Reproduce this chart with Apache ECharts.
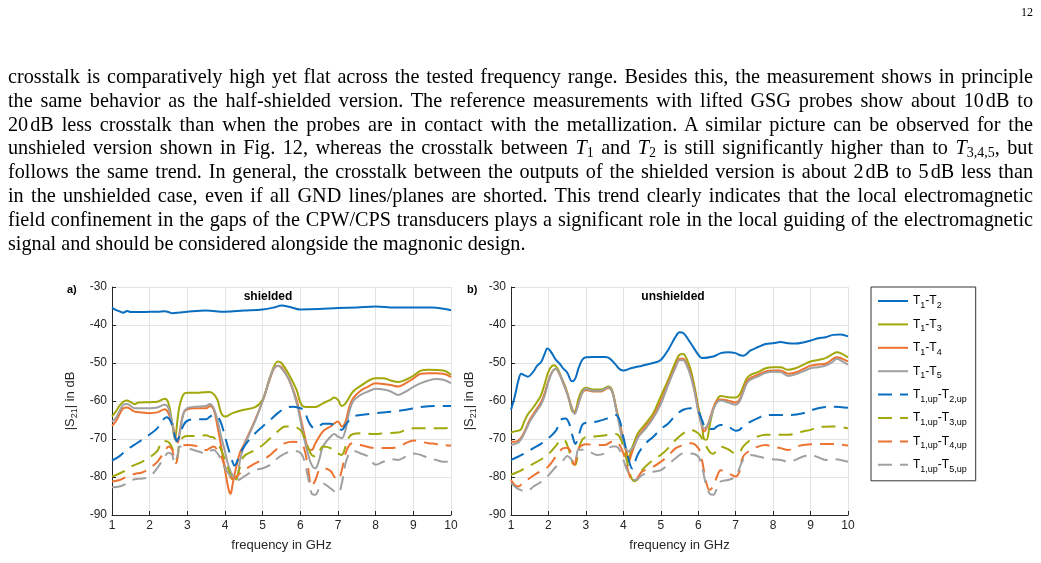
<!DOCTYPE html>
<html>
<head>
<meta charset="utf-8">
<script src="https://cdn.jsdelivr.net/npm/echarts@6/dist/echarts.min.js"></script>
<style>
html,body{margin:0;padding:0;background:#fff;width:1041px;height:563px;overflow:hidden;}
#chart{position:absolute;left:0;top:0;width:1041px;height:563px;}
#page{position:absolute;left:1021px;top:5px;font-family:'Liberation Serif',serif;font-size:12px;color:#000;}
#para{position:absolute;left:8px;top:65px;width:1025px;font-family:'Liberation Serif',serif;font-size:20.2px;line-height:23.8px;color:#000;}
#para .l{text-align:justify;text-align-last:justify;white-space:nowrap;word-spacing:-1.8px;}
#para .e{text-align:left;white-space:nowrap;}
#para sub{font-size:14px;line-height:0;vertical-align:-3px;}
.u{margin-left:2px;}
</style>
</head>
<body>
<div id="chart"></div>
<div id="page">12</div>
<div id="para">
<div class="l">crosstalk is comparatively high yet flat across the tested frequency range. Besides this, the measurement shows in principle</div>
<div class="l">the same behavior as the half-shielded version. The reference measurements with lifted GSG probes show about 10<span class="u">dB</span> to</div>
<div class="l">20<span class="u">dB</span> less crosstalk than when the probes are in contact with the metallization. A similar picture can be observed for the</div>
<div class="l">unshieled version shown in Fig. 12, whereas the crosstalk between <i>T</i><sub>1</sub> and <i>T</i><sub>2</sub> is still significantly higher than to <i>T</i><sub>3,4,5</sub>, but</div>
<div class="l">follows the same trend. In general, the crosstalk between the outputs of the shielded version is about 2<span class="u">dB</span> to 5<span class="u">dB</span> less than</div>
<div class="l">in the unshielded case, even if all GND lines/planes are shorted. This trend clearly indicates that the local electromagnetic</div>
<div class="l">field confinement in the gaps of the CPW/CPS transducers plays a significant role in the local guiding of the electromagnetic</div>
<div class="e">signal and should be considered alongside the magnonic design.</div>
</div>
<script>
// ---------- data ----------
const xTicks = [1,2,3,4,5,6,7,8,9,10];
const yTicks = [-90,-80,-70,-60,-50,-40,-30];
const seriesNames = ['T1-T2','T1-T3','T1-T4','T1-T5','T1up-T2up','T1up-T3up','T1up-T4up','T1up-T5up'];
const panelTitles = ['shielded','unshielded'];
const panelLabels = ['a)','b)'];

// (a) shielded, probes in contact (solid)
const aT12 = [[1.0,-35.5],[1.1,-36.0],[1.2,-36.4],[1.3,-36.8],[1.4,-36.3],[1.5,-36.6],[1.6,-36.6],[1.8,-36.6],[2.0,-36.5],[2.2,-36.5],[2.4,-36.4],[2.5,-36.6],[2.6,-36.9],[2.8,-36.7],[3.0,-36.5],[3.5,-36.2],[4.0,-36.5],[4.5,-36.2],[5.0,-35.9],[5.3,-35.4],[5.5,-34.9],[5.7,-35.2],[6.0,-35.9],[6.5,-35.8],[7.0,-35.5],[7.5,-35.4],[8.0,-35.1],[8.5,-35.4],[9.0,-35.4],[9.5,-35.4],[9.8,-35.7],[10.0,-36.1]];
const aT13 = [[1.0,-64.1],[1.1,-62.8],[1.2,-61.2],[1.3,-60.2],[1.4,-59.9],[1.5,-60.3],[1.6,-60.8],[1.7,-60.4],[2.0,-60.3],[2.2,-60.2],[2.4,-59.4],[2.5,-60.6],[2.6,-66.0],[2.67,-70.0],[2.75,-64.0],[2.8,-61.0],[2.9,-58.2],[3.0,-57.8],[3.3,-57.8],[3.6,-57.6],[3.7,-58.2],[3.8,-59.7],[3.9,-63.2],[4.0,-64.1],[4.2,-63.2],[4.5,-62.3],[4.8,-61.6],[5.0,-59.6],[5.2,-53.5],[5.4,-49.6],[5.5,-50.0],[5.7,-53.1],[5.9,-57.1],[6.0,-60.4],[6.1,-61.5],[6.4,-61.6],[6.6,-60.6],[6.8,-59.7],[6.9,-59.1],[7.0,-59.7],[7.1,-61.3],[7.2,-60.6],[7.4,-57.5],[7.6,-56.0],[8.0,-54.0],[8.2,-54.0],[8.4,-54.6],[8.6,-55.0],[8.8,-54.4],[9.0,-53.4],[9.2,-52.0],[9.4,-51.8],[9.8,-52.0],[10.0,-53.1]];
const aT14 = [[1.0,-66.5],[1.1,-65.4],[1.2,-63.5],[1.3,-61.9],[1.4,-61.7],[1.6,-62.8],[1.8,-63.0],[2.0,-63.2],[2.2,-63.0],[2.4,-62.2],[2.5,-63.2],[2.6,-65.9],[2.7,-70.0],[2.75,-70.9],[2.8,-68.0],[2.9,-63.2],[3.0,-62.2],[3.2,-61.9],[3.5,-61.9],[3.6,-61.3],[3.7,-62.3],[3.8,-66.7],[3.9,-72.0],[4.0,-78.2],[4.1,-83.4],[4.15,-84.4],[4.2,-82.0],[4.3,-77.3],[4.4,-73.5],[4.5,-71.5],[4.8,-65.0],[5.0,-60.0],[5.2,-54.0],[5.3,-51.5],[5.4,-50.7],[5.5,-51.1],[5.7,-54.4],[5.9,-59.7],[6.0,-64.1],[6.1,-68.5],[6.2,-72.4],[6.3,-72.9],[6.4,-71.1],[6.6,-68.0],[6.8,-66.7],[6.9,-65.9],[7.0,-65.4],[7.1,-66.7],[7.2,-65.4],[7.3,-61.5],[7.4,-59.3],[7.6,-57.3],[7.8,-56.2],[8.0,-55.3],[8.2,-55.5],[8.4,-55.8],[8.6,-56.2],[8.8,-55.3],[9.0,-54.1],[9.2,-52.8],[9.4,-52.7],[9.6,-52.7],[9.8,-52.8],[10.0,-53.7]];
const aT15 = [[1.0,-65.4],[1.1,-64.5],[1.2,-62.6],[1.3,-61.0],[1.4,-60.8],[1.6,-61.9],[1.8,-61.9],[2.0,-61.9],[2.2,-61.7],[2.4,-61.0],[2.5,-61.9],[2.6,-65.9],[2.7,-70.5],[2.75,-70.2],[2.8,-68.5],[2.9,-63.2],[3.0,-61.9],[3.2,-61.5],[3.5,-61.3],[3.6,-60.8],[3.7,-61.9],[3.8,-65.0],[3.9,-69.4],[4.0,-73.3],[4.1,-77.3],[4.2,-79.5],[4.3,-80.5],[4.35,-79.0],[4.4,-75.5],[4.5,-72.0],[4.8,-65.3],[5.0,-60.0],[5.2,-53.8],[5.3,-51.3],[5.4,-50.7],[5.5,-51.4],[5.7,-54.4],[5.9,-60.5],[6.0,-65.0],[6.1,-69.8],[6.2,-73.8],[6.3,-76.8],[6.4,-77.7],[6.5,-75.5],[6.6,-72.0],[6.8,-69.4],[6.9,-68.7],[7.0,-69.4],[7.1,-69.8],[7.2,-67.6],[7.3,-62.8],[7.4,-60.1],[7.6,-58.4],[7.8,-57.5],[8.0,-56.8],[8.2,-57.0],[8.4,-57.5],[8.6,-58.4],[8.8,-57.5],[9.0,-56.3],[9.2,-55.3],[9.4,-54.6],[9.6,-54.2],[9.8,-54.4],[10.0,-55.3]];
// (a) shielded, lifted probes (dashed)
const aU12 = [[1.0,-75.7],[1.2,-74.5],[1.4,-72.8],[1.6,-71.5],[1.8,-70.2],[2.0,-68.8],[2.2,-67.2],[2.35,-65.0],[2.45,-64.3],[2.55,-65.2],[2.65,-68.5],[2.72,-70.5],[2.8,-69.0],[2.9,-66.3],[3.0,-65.2],[3.2,-64.8],[3.5,-64.8],[3.6,-64.1],[3.7,-63.7],[3.8,-64.1],[3.9,-65.9],[4.0,-69.4],[4.1,-72.9],[4.2,-76.0],[4.25,-77.0],[4.3,-76.4],[4.4,-73.8],[4.6,-70.7],[4.8,-68.5],[5.0,-66.7],[5.2,-65.0],[5.4,-63.2],[5.6,-61.9],[5.8,-61.5],[6.0,-61.9],[6.1,-62.3],[6.2,-65.0],[6.3,-66.7],[6.4,-67.2],[6.5,-66.7],[6.6,-66.0],[6.8,-66.0],[7.0,-67.2],[7.1,-67.6],[7.2,-66.3],[7.3,-65.0],[7.4,-64.1],[7.6,-63.7],[8.0,-63.2],[8.4,-62.8],[8.8,-62.3],[9.2,-61.6],[9.6,-61.3],[10.0,-61.3]];
const aU13 = [[1.0,-79.9],[1.1,-79.5],[1.3,-78.6],[1.5,-77.3],[1.8,-76.0],[2.0,-74.8],[2.2,-73.2],[2.35,-70.5],[2.5,-70.8],[2.6,-72.4],[2.67,-74.8],[2.72,-75.2],[2.8,-70.5],[2.9,-69.5],[3.0,-69.2],[3.3,-69.2],[3.5,-69.0],[3.6,-69.4],[3.7,-69.6],[3.8,-71.1],[3.9,-72.9],[4.0,-75.5],[4.1,-78.2],[4.2,-80.8],[4.25,-81.7],[4.3,-80.8],[4.4,-77.3],[4.5,-74.6],[4.8,-72.9],[5.0,-71.6],[5.2,-69.8],[5.4,-68.0],[5.6,-66.7],[5.8,-66.7],[6.0,-67.6],[6.1,-69.4],[6.2,-72.0],[6.3,-74.2],[6.4,-74.6],[6.5,-73.3],[6.6,-72.0],[6.8,-72.4],[7.0,-73.8],[7.1,-74.2],[7.2,-72.0],[7.3,-69.4],[7.4,-68.7],[7.6,-68.5],[8.0,-68.7],[8.2,-68.5],[8.6,-68.3],[8.8,-67.6],[9.0,-67.2],[9.4,-67.2],[9.8,-67.2],[10.0,-66.9]];
const aU14 = [[1.0,-81.2],[1.2,-80.8],[1.4,-79.9],[1.6,-79.2],[1.8,-78.8],[2.0,-77.7],[2.2,-76.0],[2.4,-73.3],[2.5,-72.0],[2.6,-72.9],[2.65,-76.0],[2.7,-76.4],[2.75,-74.2],[2.8,-72.0],[3.0,-71.6],[3.3,-72.0],[3.5,-72.9],[3.6,-72.4],[3.7,-72.0],[3.8,-72.9],[3.9,-74.6],[4.0,-77.3],[4.1,-79.5],[4.2,-80.4],[4.3,-79.9],[4.4,-79.0],[4.5,-78.2],[4.8,-76.4],[5.0,-75.5],[5.2,-74.2],[5.4,-72.4],[5.6,-71.1],[5.8,-70.7],[6.0,-71.1],[6.1,-72.4],[6.2,-77.3],[6.3,-82.5],[6.4,-80.8],[6.5,-78.2],[6.6,-77.7],[6.8,-78.4],[6.9,-79.9],[7.0,-80.8],[7.1,-78.2],[7.2,-73.8],[7.3,-71.6],[7.4,-71.1],[7.6,-71.6],[8.0,-72.4],[8.2,-72.4],[8.4,-72.4],[8.6,-72.0],[8.8,-71.1],[9.0,-70.4],[9.2,-70.7],[9.4,-71.1],[9.6,-71.3],[9.8,-71.6],[10.0,-71.7]];
const aU15 = [[1.0,-82.7],[1.2,-82.5],[1.4,-81.7],[1.6,-80.6],[1.8,-80.4],[2.0,-79.9],[2.2,-77.7],[2.4,-74.6],[2.5,-73.6],[2.6,-74.2],[2.65,-76.0],[2.7,-76.0],[2.75,-73.8],[2.8,-72.0],[3.0,-72.4],[3.3,-73.3],[3.5,-73.8],[3.6,-73.1],[3.7,-72.9],[3.8,-73.8],[3.9,-75.5],[4.0,-77.7],[4.2,-80.4],[4.3,-80.8],[4.4,-80.6],[4.5,-79.9],[4.8,-78.2],[5.0,-77.7],[5.2,-76.8],[5.4,-75.0],[5.6,-73.8],[5.8,-73.1],[6.0,-73.6],[6.1,-75.5],[6.2,-79.9],[6.3,-84.3],[6.4,-84.7],[6.5,-83.0],[6.6,-81.7],[6.8,-83.0],[7.0,-84.3],[7.1,-81.7],[7.2,-76.4],[7.3,-73.8],[7.4,-73.1],[7.6,-73.8],[7.8,-74.6],[8.0,-76.8],[8.2,-76.0],[8.4,-75.3],[8.6,-75.5],[8.8,-74.6],[9.0,-73.8],[9.2,-74.2],[9.4,-75.0],[9.6,-75.5],[9.8,-76.0],[10.0,-76.0]];

// (b) unshielded, probes in contact (solid)
const bT12 = [[1.0,-62.3],[1.1,-58.8],[1.2,-54.5],[1.27,-52.8],[1.35,-53.2],[1.45,-53.6],[1.6,-52.2],[1.7,-50.7],[1.8,-49.8],[1.9,-47.6],[1.97,-46.2],[2.05,-46.8],[2.2,-49.2],[2.3,-50.2],[2.4,-51.5],[2.5,-52.5],[2.6,-54.6],[2.65,-54.8],[2.72,-54.0],[2.8,-51.5],[2.9,-49.2],[3.0,-48.5],[3.2,-48.4],[3.5,-48.4],[3.6,-48.6],[3.7,-49.4],[3.8,-50.5],[3.9,-51.6],[4.0,-52.0],[4.2,-51.4],[4.5,-50.7],[4.8,-50.0],[5.0,-49.2],[5.2,-46.5],[5.4,-43.0],[5.5,-41.9],[5.6,-42.1],[5.8,-44.8],[6.0,-47.8],[6.1,-48.7],[6.4,-48.3],[6.6,-47.4],[6.8,-47.2],[7.0,-47.4],[7.1,-47.9],[7.2,-48.1],[7.4,-46.7],[7.6,-45.8],[7.8,-45.0],[8.0,-44.8],[8.2,-44.5],[8.4,-44.8],[8.6,-44.9],[8.8,-44.6],[9.0,-44.1],[9.2,-43.5],[9.4,-43.2],[9.6,-42.6],[9.8,-42.5],[10.0,-43.0]];
const bT13 = [[1.0,-68.3],[1.1,-68.0],[1.2,-67.8],[1.27,-67.4],[1.35,-65.5],[1.45,-63.5],[1.55,-62.3],[1.7,-60.2],[1.8,-58.5],[1.9,-55.5],[2.0,-52.3],[2.1,-50.7],[2.15,-50.6],[2.25,-51.6],[2.35,-54.0],[2.45,-56.3],[2.55,-59.5],[2.65,-62.8],[2.72,-62.6],[2.8,-59.5],[2.9,-57.1],[3.0,-56.5],[3.2,-57.0],[3.4,-57.0],[3.6,-56.2],[3.7,-57.1],[3.8,-61.5],[3.9,-65.9],[4.0,-70.2],[4.1,-74.0],[4.15,-75.0],[4.2,-73.2],[4.3,-70.6],[4.4,-68.3],[4.6,-65.9],[4.8,-63.2],[5.0,-58.8],[5.2,-54.4],[5.4,-49.6],[5.5,-47.8],[5.6,-47.6],[5.7,-49.1],[5.8,-51.8],[5.9,-56.2],[6.0,-61.5],[6.1,-65.9],[6.15,-70.0],[6.22,-70.2],[6.3,-66.7],[6.4,-62.3],[6.5,-59.7],[6.6,-58.7],[6.8,-59.0],[7.0,-59.1],[7.1,-58.4],[7.2,-56.2],[7.3,-54.0],[7.4,-53.1],[7.6,-52.4],[7.8,-51.4],[8.0,-51.1],[8.2,-51.1],[8.4,-51.8],[8.6,-51.4],[8.8,-50.5],[9.0,-49.6],[9.2,-49.2],[9.4,-48.7],[9.6,-47.6],[9.7,-47.2],[9.8,-47.4],[10.0,-48.5]];
const bT14 = [[1.0,-70.7],[1.1,-70.7],[1.2,-70.4],[1.3,-69.2],[1.4,-67.2],[1.5,-65.0],[1.6,-63.4],[1.7,-61.9],[1.8,-60.4],[1.9,-57.9],[2.0,-54.6],[2.1,-52.3],[2.2,-51.6],[2.3,-53.1],[2.4,-55.3],[2.5,-57.9],[2.6,-61.0],[2.7,-63.2],[2.8,-60.6],[2.9,-57.9],[3.0,-57.1],[3.2,-57.5],[3.4,-57.5],[3.6,-56.6],[3.7,-57.5],[3.8,-61.5],[3.9,-65.9],[4.0,-70.2],[4.1,-74.3],[4.15,-76.0],[4.2,-74.5],[4.3,-71.6],[4.4,-69.2],[4.6,-66.7],[4.8,-64.1],[5.0,-60.1],[5.2,-55.3],[5.4,-50.7],[5.5,-48.9],[5.6,-48.9],[5.7,-50.4],[5.8,-53.1],[5.9,-57.1],[6.0,-62.3],[6.1,-66.7],[6.15,-68.0],[6.2,-67.6],[6.3,-65.0],[6.4,-61.9],[6.5,-59.9],[6.6,-59.6],[6.8,-59.9],[7.0,-60.4],[7.1,-59.7],[7.2,-57.3],[7.3,-54.8],[7.4,-53.9],[7.6,-53.1],[7.8,-52.2],[8.0,-52.0],[8.2,-52.0],[8.4,-52.8],[8.6,-52.5],[8.8,-51.6],[9.0,-50.7],[9.2,-50.4],[9.4,-50.2],[9.6,-48.9],[9.7,-48.5],[9.8,-48.7],[10.0,-49.6]];
const bT15 = [[1.0,-71.6],[1.1,-71.3],[1.2,-70.9],[1.3,-69.6],[1.4,-67.6],[1.5,-65.5],[1.6,-63.9],[1.7,-62.4],[1.8,-61.0],[1.9,-58.6],[2.0,-55.0],[2.1,-52.4],[2.2,-51.5],[2.3,-52.9],[2.4,-55.5],[2.5,-58.1],[2.6,-61.3],[2.7,-63.4],[2.8,-60.8],[2.9,-57.9],[3.0,-56.8],[3.2,-57.3],[3.4,-57.3],[3.6,-56.4],[3.7,-57.5],[3.8,-61.9],[3.9,-66.7],[4.0,-71.1],[4.1,-73.0],[4.15,-73.3],[4.2,-72.8],[4.3,-71.6],[4.4,-69.5],[4.6,-67.2],[4.8,-64.5],[5.0,-60.8],[5.2,-55.7],[5.4,-51.1],[5.5,-49.3],[5.6,-49.3],[5.7,-50.8],[5.8,-53.5],[5.9,-57.5],[6.0,-62.8],[6.1,-66.5],[6.15,-67.2],[6.2,-67.0],[6.3,-65.4],[6.4,-62.3],[6.5,-60.4],[6.6,-59.9],[6.8,-60.4],[7.0,-61.0],[7.1,-60.2],[7.2,-57.8],[7.3,-55.3],[7.4,-54.4],[7.6,-53.5],[7.8,-52.6],[8.0,-52.3],[8.2,-52.4],[8.4,-53.4],[8.6,-53.0],[8.8,-52.2],[9.0,-51.4],[9.2,-51.1],[9.4,-50.7],[9.6,-49.6],[9.7,-48.9],[9.8,-49.3],[10.0,-50.4]];
// (b) unshielded, lifted probes (dashed)
const bU12 = [[1.0,-75.5],[1.2,-74.6],[1.4,-73.6],[1.6,-72.4],[1.8,-71.3],[2.0,-69.8],[2.2,-67.8],[2.35,-64.8],[2.45,-64.6],[2.55,-65.8],[2.65,-69.5],[2.72,-71.3],[2.8,-69.4],[2.9,-66.3],[3.0,-65.7],[3.3,-65.4],[3.6,-64.5],[3.8,-63.7],[3.9,-65.0],[4.0,-69.4],[4.1,-73.8],[4.2,-77.3],[4.25,-77.8],[4.3,-76.4],[4.4,-73.8],[4.6,-71.1],[4.8,-69.4],[5.0,-67.4],[5.2,-65.9],[5.4,-63.7],[5.6,-62.3],[5.8,-61.9],[6.0,-62.8],[6.1,-65.0],[6.2,-67.2],[6.3,-67.4],[6.4,-67.4],[6.5,-66.7],[6.6,-66.3],[6.8,-66.7],[7.0,-67.8],[7.1,-67.6],[7.2,-66.7],[7.4,-65.4],[7.6,-64.5],[7.8,-63.7],[8.0,-63.7],[8.4,-63.7],[8.8,-63.2],[9.2,-61.9],[9.6,-61.5],[10.0,-61.8]];
const bU13 = [[1.0,-79.4],[1.2,-78.6],[1.4,-77.5],[1.6,-76.5],[1.8,-75.4],[2.0,-74.0],[2.2,-71.8],[2.35,-70.2],[2.45,-70.5],[2.55,-73.0],[2.65,-76.5],[2.72,-76.8],[2.8,-72.9],[2.9,-70.2],[3.0,-69.5],[3.3,-69.3],[3.6,-68.9],[3.8,-68.7],[3.9,-69.4],[4.0,-72.0],[4.1,-76.0],[4.2,-79.9],[4.3,-81.1],[4.4,-80.4],[4.5,-78.2],[4.8,-75.5],[5.0,-74.2],[5.2,-72.4],[5.4,-70.2],[5.6,-68.5],[5.8,-67.6],[6.0,-68.5],[6.1,-69.8],[6.2,-71.6],[6.3,-73.3],[6.4,-73.9],[6.5,-72.9],[6.6,-72.0],[6.8,-72.7],[7.0,-73.8],[7.1,-73.6],[7.2,-72.0],[7.4,-70.2],[7.6,-69.3],[7.8,-68.9],[8.0,-68.9],[8.4,-68.9],[8.8,-68.0],[9.0,-67.6],[9.2,-66.9],[9.6,-66.7],[10.0,-67.2]];
const bU14 = [[1.0,-80.8],[1.1,-82.1],[1.2,-82.5],[1.3,-81.7],[1.4,-81.0],[1.6,-79.6],[1.8,-78.4],[2.0,-77.2],[2.2,-74.6],[2.4,-72.4],[2.5,-72.3],[2.6,-73.5],[2.65,-76.0],[2.7,-76.8],[2.75,-74.6],[2.8,-72.5],[3.0,-71.4],[3.3,-71.6],[3.5,-71.6],[3.7,-70.7],[3.8,-70.7],[3.9,-71.6],[4.0,-73.8],[4.1,-77.3],[4.2,-80.4],[4.3,-81.2],[4.4,-79.9],[4.5,-78.6],[4.8,-77.3],[5.0,-76.0],[5.2,-74.4],[5.4,-72.4],[5.6,-71.6],[5.8,-71.1],[6.0,-72.4],[6.1,-75.5],[6.2,-80.8],[6.3,-83.4],[6.4,-82.5],[6.5,-79.9],[6.6,-78.2],[6.8,-79.0],[7.0,-79.9],[7.1,-78.6],[7.2,-74.6],[7.4,-72.9],[7.6,-72.0],[7.8,-71.6],[8.0,-72.0],[8.2,-72.4],[8.4,-72.9],[8.6,-72.1],[8.8,-71.6],[9.2,-71.3],[9.6,-71.3],[10.0,-71.7]];
const bU15 = [[1.0,-81.6],[1.1,-82.5],[1.2,-83.2],[1.4,-83.8],[1.5,-83.4],[1.6,-82.5],[1.8,-81.3],[2.0,-79.6],[2.2,-77.3],[2.4,-75.5],[2.5,-74.5],[2.6,-75.2],[2.65,-76.0],[2.7,-76.3],[2.75,-74.5],[2.8,-72.8],[3.0,-72.9],[3.3,-74.2],[3.5,-73.8],[3.7,-72.0],[3.8,-72.0],[3.9,-72.9],[4.0,-75.5],[4.1,-78.2],[4.2,-79.9],[4.3,-80.8],[4.4,-80.4],[4.5,-79.5],[4.8,-78.6],[5.0,-78.2],[5.2,-76.7],[5.4,-75.0],[5.6,-73.8],[5.8,-73.8],[6.0,-74.6],[6.1,-77.3],[6.2,-81.7],[6.3,-84.3],[6.4,-84.7],[6.5,-83.0],[6.6,-81.2],[6.8,-80.8],[7.0,-79.9],[7.1,-77.7],[7.2,-75.5],[7.4,-74.2],[7.6,-74.6],[7.8,-75.0],[8.0,-75.3],[8.2,-75.5],[8.4,-76.0],[8.6,-75.5],[8.8,-74.6],[9.0,-74.2],[9.2,-74.8],[9.4,-75.5],[9.6,-75.3],[9.8,-75.5],[10.0,-76.0]];

// ---------- styling ----------
const COLORS = ['#0A6EC0','#A0A80A','#EC7331','#A0A0A0'];
const FONT = '"Liberation Sans", Arial, Helvetica, sans-serif';
const AX = '#262626';
const panels = [
  [aT12,aT13,aT14,aT15,aU12,aU13,aU14,aU15],
  [bT12,bT13,bT14,bT15,bU12,bU13,bU14,bU15]
];
const grids = [
  {left:112, top:287, width:339, height:228},
  {left:511, top:287, width:337, height:228}
];

function makeX(i){
  return {
    gridIndex:i, type:'value', min:xTicks[0], max:xTicks[xTicks.length-1], interval:1,
    axisLine:{show:true, onZero:false, lineStyle:{color:AX, width:1}},
    axisTick:{show:true, inside:true, length:4, lineStyle:{color:AX}},
    axisLabel:{margin:5, fontSize:12, color:AX, fontFamily:FONT},
    splitLine:{show:true, lineStyle:{color:'#e4e4e4', width:1}},
    name:'frequency in GHz', nameLocation:'middle', nameGap:24,
    nameTextStyle:{fontSize:13, color:AX, fontFamily:FONT}
  };
}
function makeY(i){
  return {
    gridIndex:i, type:'value', min:yTicks[0], max:yTicks[yTicks.length-1], interval:10,
    axisLine:{show:true, onZero:false, lineStyle:{color:AX, width:1}},
    axisTick:{show:true, inside:true, length:4, lineStyle:{color:AX}},
    axisLabel:{margin:5, fontSize:12, color:AX, fontFamily:FONT},
    splitLine:{show:true, lineStyle:{color:'#e4e4e4', width:1}},
    name:'|S{sub|21}| in dB', nameLocation:'middle', nameGap:33,
    nameTextStyle:{fontSize:13, color:AX, fontFamily:FONT,
      rich:{sub:{fontSize:9, color:AX, fontFamily:FONT, padding:[8,0,0,0]}}}
  };
}

const series = [];
panels.forEach((arrs, p) => {
  arrs.forEach((d, k) => {
    series.push({
      name: seriesNames[k], type:'line', xAxisIndex:p, yAxisIndex:p,
      data: d, symbol:'none', smooth:0.35, animation:false,
      lineStyle:{color:COLORS[k%4], width:2, type: k<4 ? 'solid' : [14,8], cap:'butt'},
      itemStyle:{color:COLORS[k%4]}
    });
  });
});

const legendRich = {
  n:{fontSize:12, color:'#000', fontFamily:FONT},
  s:{fontSize:9, color:'#000', fontFamily:FONT, padding:[9,0,0,0]}
};
function legendFmt(name){
  const m = name.match(/^T1(up)?-T(\d)(up)?$/);
  const up = m[1] ? ',up' : '';
  return '{n|T}{s|1' + up + '}{n|-T}{s|' + m[2] + up + '}';
}

const graphics = [];
panelTitles.forEach((t,i)=>{
  graphics.push({type:'text', x:[268,673][i], y:297, z:100,
    style:{text:t, fill:'#000', font:'bold 12px '+FONT, textAlign:'center', textVerticalAlign:'middle', align:'center', verticalAlign:'middle'}});
});
panelLabels.forEach((t,i)=>{
  graphics.push({type:'text', x:[67,467][i], y:290, z:100,
    style:{text:t, fill:'#000', font:'bold 11px '+FONT, textAlign:'left', textVerticalAlign:'middle', align:'left', verticalAlign:'middle'}});
});

const chart = echarts.init(document.getElementById('chart'), null, {renderer:'canvas'});
chart.setOption({
  animation:false,
  backgroundColor:'transparent',
  grid: grids,
  xAxis: [makeX(0), makeX(1)],
  yAxis: [makeY(0), makeY(1)],
  legend: {
    data: seriesNames, orient:'vertical', left:871, top:287,
    padding:[8,9,7,6], itemGap:8.4, itemWidth:30, itemHeight:10,
    borderColor:'#333', borderWidth:1, backgroundColor:'#fff',
    itemStyle:{opacity:0, borderWidth:0},
    formatter: legendFmt, textStyle:{rich:legendRich, fontFamily:FONT},
    selectedMode:false
  },
  graphic: graphics,
  series: series
});
</script>
</body>
</html>
